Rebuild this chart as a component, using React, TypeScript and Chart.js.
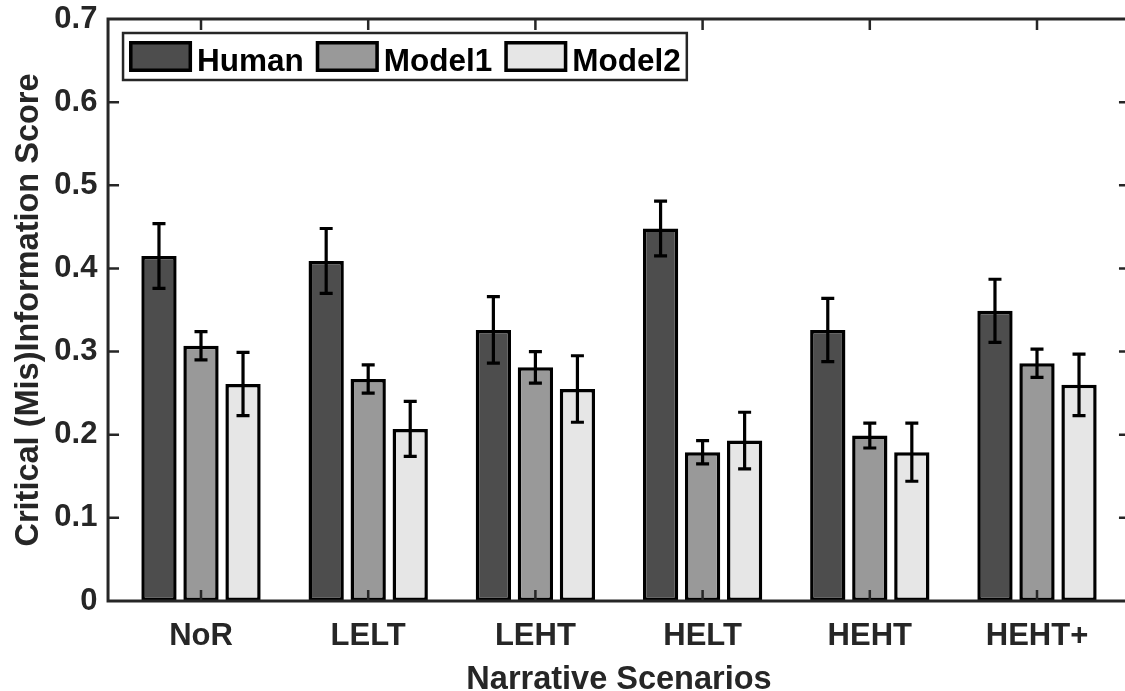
import React, { useEffect, useRef } from "react";
import { Chart, registerables } from "chart.js";

Chart.register(...registerables);

const categories = ["NoR", "LELT", "LEHT", "HELT", "HEHT", "HEHT+"];
const seriesNames = ["Human", "Model1", "Model2"];
const humanValues = [0.415, 0.409, 0.326, 0.448, 0.326, 0.349];
const humanErrors = [0.039, 0.039, 0.040, 0.033, 0.038, 0.038];
const model1Values = [0.307, 0.267, 0.281, 0.179, 0.199, 0.286];
const model1Errors = [0.017, 0.017, 0.019, 0.014, 0.015, 0.017];
const model2Values = [0.261, 0.207, 0.255, 0.193, 0.179, 0.260];
const model2Errors = [0.038, 0.033, 0.040, 0.034, 0.035, 0.037];
const yTickValues = [0, 0.1, 0.2, 0.3, 0.4, 0.5, 0.6, 0.7];
const xTitle = "Narrative Scenarios";
const yTitle = "Critical (Mis)Information Score";

const seriesValues = [humanValues, model1Values, model2Values];
const seriesErrors = [humanErrors, model1Errors, model2Errors];
const seriesColors = ["#4d4d4d", "#999999", "#e6e6e6"];

const AXIS_COLOR = "#262626";
const FONT = "'Liberation Sans', Arial, Helvetica, sans-serif";
const X_EXTRA = 0.056; // extra x-limit beyond half category, in category units

const framePlugin = {
  id: "framePlugin",
  afterDatasetsDraw(chart: any) {
    const ctx = chart.ctx;
    const xs = chart.scales.x;
    const ys = chart.scales.y;
    const area = chart.chartArea;
    const catW = (area.right - area.left) / categories.length;
    const fl = area.left - X_EXTRA * catW;
    const fr = area.right + X_EXTRA * catW;
    const ft = ys.getPixelForValue(0.7);
    const fb = ys.getPixelForValue(0);

    // error bars
    ctx.save();
    ctx.strokeStyle = "#000000";
    ctx.lineWidth = 3.2;
    ctx.lineCap = "butt";
    chart.data.datasets.forEach((ds: any, di: number) => {
      const meta = chart.getDatasetMeta(di);
      meta.data.forEach((bar: any, i: number) => {
        const v = seriesValues[di][i];
        const e = seriesErrors[di][i];
        const x = bar.x;
        const yTop = ys.getPixelForValue(v + e);
        const yBot = ys.getPixelForValue(v - e);
        ctx.beginPath();
        ctx.moveTo(x, yTop);
        ctx.lineTo(x, yBot);
        ctx.moveTo(x - 6.5, yTop);
        ctx.lineTo(x + 6.5, yTop);
        ctx.moveTo(x - 6.5, yBot);
        ctx.lineTo(x + 6.5, yBot);
        ctx.stroke();
      });
    });
    ctx.restore();

    // frame + ticks
    ctx.save();
    ctx.strokeStyle = AXIS_COLOR;
    ctx.lineWidth = 3;
    ctx.beginPath();
    ctx.moveTo(fl, fb);
    ctx.lineTo(fl, ft);
    ctx.lineTo(fr, ft);
    ctx.lineTo(fr, fb);
    ctx.closePath();
    ctx.stroke();
    ctx.lineWidth = 2.5;
    ctx.beginPath();
    yTickValues.forEach((t) => {
      if (t === 0 || t === 0.7) return;
      const y = ys.getPixelForValue(t);
      ctx.moveTo(fl, y);
      ctx.lineTo(fl + 11, y);
      ctx.moveTo(fr, y);
      ctx.lineTo(fr - 11, y);
    });
    categories.forEach((_, i) => {
      const x = xs.getPixelForValue(i);
      ctx.moveTo(x, fb);
      ctx.lineTo(x, fb - 11);
      ctx.moveTo(x, ft);
      ctx.lineTo(x, ft + 11);
    });
    ctx.stroke();
    ctx.restore();

    // legend
    ctx.save();
    ctx.font = `bold 31.5px ${FONT}`;
    ctx.textBaseline = "alphabetic";
    const boxL = fl + 15;
    const boxT = ft + 14;
    const boxH = 47;
    const swW = 63;
    const swH = 31;
    let x = boxL + 6;
    const items: any[] = [];
    seriesNames.forEach((name, i) => {
      const tw = ctx.measureText(name).width;
      items.push({ name, x, tw, color: seriesColors[i] });
      x += swW + 5 + tw + 12;
    });
    const boxR = x - 12 + 6;
    ctx.fillStyle = "#ffffff";
    ctx.fillRect(boxL, boxT, boxR - boxL, boxH);
    ctx.strokeStyle = AXIS_COLOR;
    ctx.lineWidth = 2.5;
    ctx.strokeRect(boxL, boxT, boxR - boxL, boxH);
    items.forEach((it) => {
      const sy = boxT + (boxH - swH) / 2;
      ctx.fillStyle = it.color;
      ctx.fillRect(it.x, sy, swW, swH);
      ctx.strokeStyle = "#000000";
      ctx.lineWidth = 3.5;
      ctx.strokeRect(it.x + 1.75, sy + 1.75, swW - 3.5, swH - 3.5);
      ctx.fillStyle = "#000000";
      ctx.fillText(it.name, it.x + swW + 5, boxT + 38);
    });
    ctx.restore();
  },
};

export default function App() {
  const canvasRef = useRef<HTMLCanvasElement | null>(null);

  useEffect(() => {
    const canvas = canvasRef.current;
    if (!canvas) return;
    const chart = new Chart(canvas, {
      type: "bar",
      data: {
        labels: categories,
        datasets: seriesNames.map((name, i) => ({
          label: name,
          data: seriesValues[i],
          backgroundColor: seriesColors[i],
          borderColor: "#000000",
          borderWidth: 3.5,
          borderSkipped: false,
          categoryPercentage: 0.754,
          barPercentage: 0.84,
        })),
      },
      plugins: [framePlugin],
      options: {
        responsive: false,
        animation: false,
        devicePixelRatio: 1,
        layout: { padding: { top: 19, right: 4.4, bottom: 0, left: 0 } },
        plugins: {
          legend: { display: false },
          tooltip: { enabled: false },
        },
        scales: {
          x: {
            type: "category",
            offset: true,
            grid: { display: false, drawTicks: false },
            border: { display: false },
            ticks: {
              color: AXIS_COLOR,
              font: { family: FONT, size: 31, weight: "bold" },
              padding: 17,
              maxRotation: 0,
            },
            title: {
              display: true,
              text: xTitle,
              color: AXIS_COLOR,
              font: { family: FONT, size: 32.5, weight: "bold", lineHeight: 0.7 },
              padding: { top: 0, bottom: 0 },
            },
            afterFit(scale: any) {
              scale.height = 90;
              scale.paddingLeft = 0;
              scale.paddingRight = 0;
            },
          },
          y: {
            min: 0,
            max: 0.7,
            grid: { display: false, drawTicks: false },
            border: { display: false },
            ticks: {
              stepSize: 0.1,
              color: AXIS_COLOR,
              font: { family: FONT, size: 31, weight: "bold" },
              padding: 20,
              callback: (v: any) => {
                const n = Number(v);
                return n === 0 ? "0" : n.toFixed(1);
              },
            },
            title: {
              display: true,
              text: yTitle,
              color: AXIS_COLOR,
              font: { family: FONT, size: 32.5, weight: "bold" },
              padding: { top: 10, bottom: 0 },
            },
            afterFit(scale: any) {
              scale.width = 117.4;
              scale.paddingTop = 0;
              scale.paddingBottom = 0;
            },
          },
        },
      },
    } as any);
    return () => chart.destroy();
  }, []);

  return (
    <div style={{ position: "fixed", left: 0, top: 0, width: 1125, height: 691, overflow: "hidden", background: "#fff" }}>
      <canvas ref={canvasRef} width={1125} height={691} style={{ width: 1125, height: 691, display: "block" }} />
    </div>
  );
}
